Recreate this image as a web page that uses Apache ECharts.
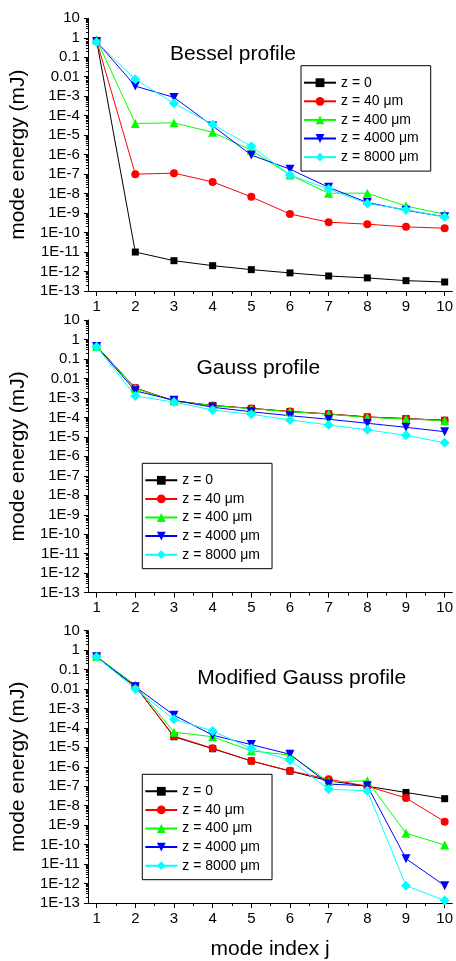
<!DOCTYPE html>
<html><head><meta charset="utf-8">
<script src="https://cdn.jsdelivr.net/npm/echarts@6/dist/echarts.min.js"></script>
<style>html,body{margin:0;padding:0;background:#fff}#c{width:456px;height:961px}</style>
</head><body><div id="c"></div>
<script>
// ---- data ----
const modeIndex = [1, 2, 3, 4, 5, 6, 7, 8, 9, 10];
const seriesNames = ['z = 0', 'z = 40 μm', 'z = 400 μm', 'z = 4000 μm', 'z = 8000 μm'];
const panelTitles = ['Bessel profile', 'Gauss profile', 'Modified Gauss profile'];
const yTickLabels = ['1E-13','1E-12','1E-11','1E-10','1E-9','1E-8','1E-7','1E-6','1E-5','1E-4','1E-3','0.01','0.1','1','10'];
const xTickLabels = ['1','2','3','4','5','6','7','8','9','10'];

// Bessel profile
const bessel_z0    = [0.7, 1.0e-11, 3.6e-12, 2.0e-12, 1.25e-12, 8.5e-13, 5.9e-13, 4.7e-13, 3.4e-13, 2.9e-13];
const bessel_z40   = [0.7, 1.0e-7, 1.12e-7, 4.0e-8, 6.8e-9, 9.0e-10, 3.4e-10, 2.7e-10, 1.96e-10, 1.67e-10];
const bessel_z400  = [0.8, 4.0e-5, 4.3e-5, 1.4e-5, 1.7e-6, 9.0e-8, 1.05e-8, 1.05e-8, 2.3e-9, 8.7e-10];
const bessel_z4000 = [0.65, 3.3e-3, 8.7e-4, 3.0e-5, 9.5e-7, 1.8e-7, 2.1e-8, 3.5e-9, 1.4e-9, 6.5e-10];
const bessel_z8000 = [0.6, 7.4e-3, 4.3e-4, 3.5e-5, 2.7e-6, 9.0e-8, 1.7e-8, 3.1e-9, 1.5e-9, 6.3e-10];

// Gauss profile
const gauss_z0    = [0.45, 3.2e-3, 7.0e-4, 4.1e-4, 2.9e-4, 2.0e-4, 1.5e-4, 1.05e-4, 8.7e-5, 7.1e-5];
const gauss_z40   = [0.45, 3.2e-3, 7.0e-4, 4.1e-4, 2.9e-4, 2.0e-4, 1.5e-4, 1.05e-4, 8.6e-5, 7.0e-5];
const gauss_z400  = [0.44, 3.1e-3, 6.9e-4, 4.0e-4, 2.8e-4, 1.95e-4, 1.45e-4, 1.0e-4, 8.3e-5, 6.8e-5];
const gauss_z4000 = [0.44, 2.3e-3, 7.6e-4, 3.3e-4, 1.95e-4, 1.22e-4, 8.0e-5, 5.0e-5, 3.1e-5, 1.85e-5];
const gauss_z8000 = [0.42, 1.26e-3, 6.1e-4, 2.4e-4, 1.44e-4, 7.4e-5, 4.1e-5, 2.3e-5, 1.2e-5, 5.0e-6];

// Modified Gauss profile
const modg_z0    = [0.46, 0.014, 3.5e-5, 8.5e-6, 2.0e-6, 6.0e-7, 1.9e-7, 1.0e-7, 4.8e-8, 2.3e-8];
const modg_z40   = [0.46, 0.014, 3.8e-5, 8.9e-6, 2.0e-6, 6.2e-7, 2.3e-7, 1.0e-7, 2.5e-8, 1.5e-9];
const modg_z400  = [0.46, 0.016, 6.0e-5, 3.5e-5, 6.6e-6, 4.0e-6, 1.7e-7, 1.9e-7, 3.9e-10, 9.5e-11];
const modg_z4000 = [0.45, 0.013, 4.5e-4, 4.2e-5, 1.38e-5, 4.4e-6, 1.3e-7, 1.05e-7, 1.9e-11, 7.8e-13];
const modg_z8000 = [0.44, 0.010, 2.8e-4, 6.9e-5, 8.7e-6, 2.2e-6, 7.0e-8, 5.9e-8, 7.8e-13, 1.35e-13];

const panels = [
  [bessel_z0, bessel_z40, bessel_z400, bessel_z4000, bessel_z8000],
  [gauss_z0, gauss_z40, gauss_z400, gauss_z4000, gauss_z8000],
  [modg_z0, modg_z40, modg_z400, modg_z4000, modg_z8000]
];

// ---- styling ----
const FONT = "'Liberation Sans', Arial, sans-serif";
const colors = ['#000000', '#ff0000', '#00ff00', '#0000ff', '#00ffff'];
const symbols = ['rect', 'circle', 'triangle', 'triangle', 'diamond'];
const symbolRot = [0, 0, 0, 180, 0];
const symbolSizes = [7, 8, 9, 9, 10];
const gridTops = [18.3, 320, 630.6];
const gridH = 272.7;
const gridLeft = 87.5;
const xMin = 0.775, xMax = 10.197;
const titlePos = [[233, 44], [258.3, 358], [301.7, 668]];
const legendPos = [[301, 65.7], [142.3, 463.3], [142.3, 774.3]];

const yMajor = [];
for (let e = -13; e <= 1; e++) yMajor.push(Math.pow(10, e));
const yMinor = [];
for (let e = -13; e <= 0; e++) for (let k = 2; k <= 9; k++) yMinor.push(k * Math.pow(10, e));
const xMinor = [];
for (let i = 1; i < 10; i++) xMinor.push(i + 0.5);

const grid = [], xAxis = [], yAxis = [], series = [], title = [], legend = [];
gridTops.forEach((top, p) => {
  grid.push({ left: gridLeft, top: top, right: 0, height: gridH });
  // main x axis
  xAxis.push({
    type: 'value', gridIndex: p, position: 'bottom', min: xMin, max: xMax,
    axisLine: { show: true, onZero: false, lineStyle: { color: '#000', width: 1 } },
    axisTick: { show: true, customValues: modeIndex, length: 5, lineStyle: { color: '#000' } },
    axisLabel: { show: true, customValues: modeIndex, margin: 8, fontSize: 15, color: '#000', fontFamily: FONT,
      formatter: v => xTickLabels[Math.round(v) - 1] },
    splitLine: { show: false },
    name: p === 2 ? 'mode index j' : '', nameLocation: 'middle', nameGap: 36,
    nameTextStyle: { fontSize: 21, color: '#000', fontFamily: FONT }
  });
  // minor x ticks
  xAxis.push({
    type: 'value', gridIndex: p, position: 'bottom', min: xMin, max: xMax,
    axisLine: { show: false, onZero: false },
    axisTick: { show: true, customValues: xMinor, length: 3, lineStyle: { color: '#000' } },
    axisLabel: { show: false }, splitLine: { show: false }
  });
  // main y axis
  yAxis.push({
    type: 'log', logBase: 10, gridIndex: p, position: 'left', min: 1e-13, max: 10,
    axisLine: { show: true, onZero: false, lineStyle: { color: '#000', width: 1 } },
    axisTick: { show: true, customValues: yMajor, length: 4, lineStyle: { color: '#000' } },
    axisLabel: { show: true, customValues: yMajor, margin: 8, fontSize: 15, color: '#000', fontFamily: FONT,
      formatter: v => yTickLabels[Math.round(Math.log10(v)) + 13] },
    splitLine: { show: false },
    name: 'mode energy (mJ)', nameLocation: 'middle', nameGap: 58, nameRotate: 90,
    nameTextStyle: { fontSize: 21, color: '#000', fontFamily: FONT }
  });
  // minor y ticks
  yAxis.push({
    type: 'log', logBase: 10, gridIndex: p, position: 'left', min: 1e-13, max: 10,
    axisLine: { show: false, onZero: false },
    axisTick: { show: true, customValues: yMinor, length: 2, lineStyle: { color: '#000' } },
    axisLabel: { show: false }, splitLine: { show: false }
  });
  title.push({
    text: panelTitles[p], left: titlePos[p][0], top: titlePos[p][1], textAlign: 'center', padding: 0,
    textStyle: { fontSize: 21, fontWeight: 'normal', color: '#000', fontFamily: FONT }
  });
  legend.push({
    data: seriesNames, orient: 'vertical', left: legendPos[p][0], top: legendPos[p][1],
    padding: [10, 12, 7, 2], itemWidth: 32, itemHeight: 11, itemGap: 4.6,
    borderColor: '#000', borderWidth: 1, backgroundColor: '#fff',
    textStyle: { fontSize: 14, color: '#000', fontFamily: FONT },
    selectedMode: false
  });
  panels[p].forEach((vals, s) => {
    series.push({
      name: seriesNames[s], type: 'line',
      xAxisIndex: p * 2, yAxisIndex: p * 2,
      data: modeIndex.map((j, i) => [j, vals[i]]),
      symbol: symbols[s], symbolRotate: symbolRot[s], symbolSize: symbolSizes[s],
      lineStyle: { color: colors[s], width: 1 },
      itemStyle: { color: colors[s], borderWidth: 0 },
      clip: false, animation: false
    });
  });
});

const chart = echarts.init(document.getElementById('c'), null, { renderer: 'canvas' });
chart.setOption({ animation: false, textStyle: { fontFamily: FONT }, grid, xAxis, yAxis, title, legend, series });
</script></body></html>
